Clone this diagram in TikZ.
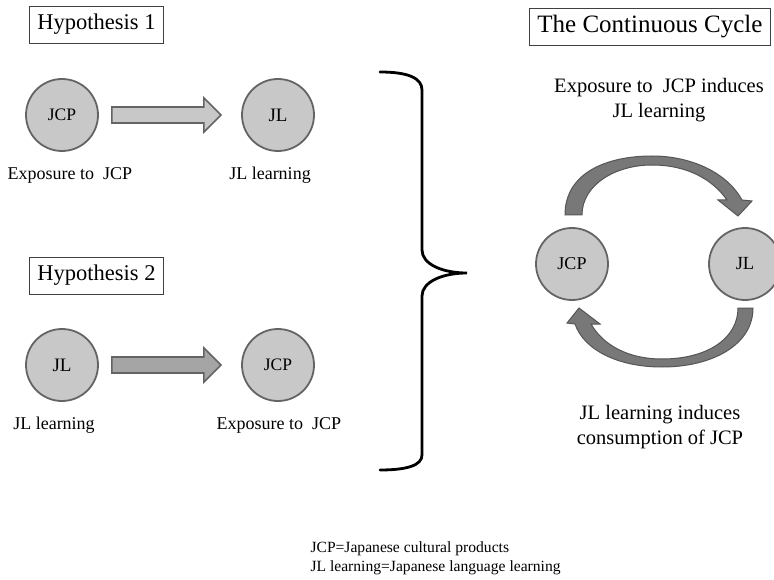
\documentclass[tikz,border=0pt]{standalone}
\usepackage{fontspec}
\setmainfont{Liberation Serif}
\definecolor{circfill}{RGB}{200,200,200}
\definecolor{circdraw}{RGB}{100,100,100}
\definecolor{arrowA}{RGB}{200,200,200}
\definecolor{arrowB}{RGB}{165,165,165}
\definecolor{cyclefill}{RGB}{120,120,120}
\definecolor{cycledraw}{RGB}{85,85,85}
\begin{document}
\begin{tikzpicture}[x=1pt,y=-1pt,
  circ/.style={circle,draw=circdraw,fill=circfill,line width=1.8pt,minimum size=72pt,inner sep=0pt},
  titlebox/.style={draw=black!75,line width=0.8pt,inner xsep=8pt,minimum height=37pt},
  lbl/.style={font=\fontsize{18}{21}\selectfont},
  blockarrow/.style={draw=circdraw,line width=1.6pt,line join=miter},
  cyc/.style={fill=cyclefill,draw=cycledraw,line width=1pt,line join=miter},
  cyctext/.style={align=center,font=\fontsize{20.5}{25}\selectfont}]
\useasboundingbox (0,0) rectangle (774,580);
% Hypothesis 1
\node[titlebox,font=\fontsize{22.5}{26}\selectfont] (h1) at (96.5,24.5) {Hypothesis 1};
\node[circ,font=\fontsize{17.5}{20}\selectfont] (c1) at (62,115) {JCP};
\node[circ,font=\fontsize{19}{20}\selectfont] (c2) at (278,115) {JL};
\node[lbl] (l1) at (70,175) {Exposure to~~JCP};
\node[lbl] (l2) at (270,175) {JL learning};
\coordinate (a1s) at ([xshift=13pt]c1.east);
\path[blockarrow,fill=arrowA] (a1s) ++(0,-8) -- ++(92,0) -- ++(0,-9) -- ++(17,17) -- ++(-17,17) -- ++(0,-9) -- ++(-92,0) -- cycle;
% Hypothesis 2
\node[titlebox,font=\fontsize{22.5}{26}\selectfont] (h2) at (96.5,275.5) {Hypothesis 2};
\node[circ,font=\fontsize{19}{20}\selectfont] (c3) at (62,365) {JL};
\node[circ,font=\fontsize{17.5}{20}\selectfont] (c4) at (278,365) {JCP};
\node[lbl] (l3) at (54,425) {JL learning};
\node[lbl] (l4) at (279,425) {Exposure to~~JCP};
\coordinate (a2s) at ([xshift=13pt]c3.east);
\path[blockarrow,fill=arrowB] (a2s) ++(0,-8) -- ++(92,0) -- ++(0,-9) -- ++(17,17) -- ++(-17,17) -- ++(0,-9) -- ++(-92,0) -- cycle;
% Brace
\draw[line width=2.8pt,line cap=round] (380,72) .. controls (408,72) and (422,78) .. (422,90)
  -- (422,250) .. controls (422,264) and (442,273) .. (467,273)
  .. controls (442,273) and (422,282) .. (422,296)
  -- (422,455) .. controls (422,465) and (408,470) .. (380,470);
% The continuous cycle
\node[titlebox,font=\fontsize{25}{30}\selectfont,anchor=west] (h3) at (529,26.5) {The Continuous Cycle\hspace{6pt}};
\node[cyctext] (t1) at (659,100) {Exposure to~~JCP induces\\JL learning};
\node[circ,font=\fontsize{18}{20}\selectfont] (c5) at (572,264) {JCP};
\node[circ,font=\fontsize{18.5}{20}\selectfont] (c6) at (745,264) {JL};
\node[cyctext] (t2) at (660,427) {JL learning induces\\consumption of JCP};
% top curved arrow
\path[cyc] (565,215) .. controls (565,172) and (608,156) .. (652,156)
  .. controls (693,156) and (728,174) .. (742,200) -- (752,201) -- (738,216) -- (718,200) -- (727,200)
  .. controls (713,180) and (688,165) .. (652,165)
  .. controls (615,165) and (582,185) .. (582,215) -- cycle;
% bottom curved arrow
\path[cyc] (753,308) .. controls (753,345) and (712,367) .. (662,367)
  .. controls (618,367) and (584,350) .. (575,324) -- (567,323) -- (579,308) -- (600,324) -- (591,324)
  .. controls (603,345) and (628,359) .. (662,359)
  .. controls (708,359) and (738,338) .. (738,308) -- cycle;
% footnote
\node[anchor=west,align=left,font=\fontsize{15.6}{19}\selectfont] (fn) at (307,558) {JCP=Japanese cultural products\\JL learning=Japanese language learning};
\end{tikzpicture}
\end{document}
